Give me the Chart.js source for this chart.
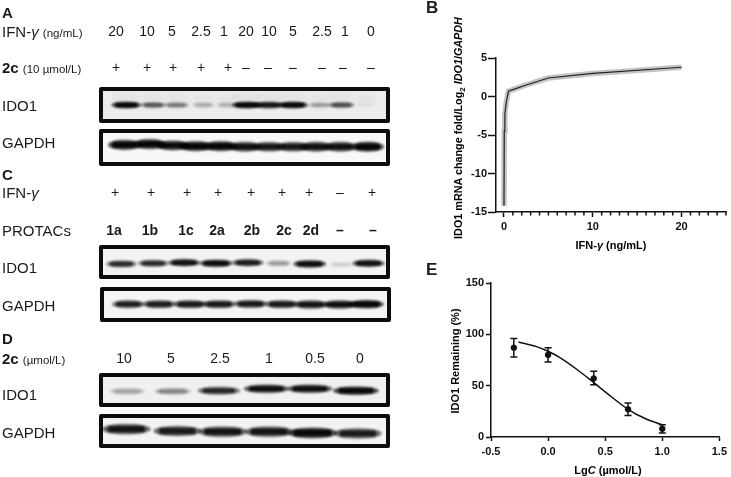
<!DOCTYPE html>
<html>
<head>
<meta charset="utf-8">
<title>IDO1 degradation</title>
<script src="https://cdn.jsdelivr.net/npm/chart.js@4"></script>
<style>
  body { margin: 0; background: #fff; width: 731px; height: 477px; overflow: hidden; position: relative;
         font-family: "Liberation Sans", Arial, sans-serif; color: #1a1a1a; }
  .t { position: absolute; white-space: nowrap; transform: translate(0, -50%); font-size: 15px; filter: blur(0.3px); }
  .c { transform: translate(-50%, -50%); text-align: center; font-size: 14px; }
  .r { transform: translate(-50%, -50%) rotate(-90deg); filter: none; }
  .s { font-size: 11.5px; }
  .b { font-weight: bold; }
  .ax { font-weight: bold; font-size: 11px; color: #000; }
  .blot { position: absolute; border: 4px solid #0c0c0c; border-radius: 2px; }
  .blot canvas, canvas.plot { display: block; }
  canvas.plot { position: absolute; }
  sub { font-size: 8px; line-height: 0; }
</style>
</head>
<body>
<script>
// Lane headers
const aDoses = ['20', '10', '5', '2.5', '1', '20', '10', '5', '2.5', '1', '0'];
const aCompound = ['+', '+', '+', '+', '+', '–', '–', '–', '–', '–', '–'];
const cIfn = ['+', '+', '+', '+', '+', '+', '+', '–', '+'];
const cProtacs = ['1a', '1b', '1c', '2a', '2b', '2c', '2d', '–', '–'];
const dDoses = ['10', '5', '2.5', '1', '0.5', '0'];

// Blot bands: place along the membrane (%), migration down it (%), darkness 0-1
const aIdoLane = [6.7, 16.6, 25.1, 35, 43.8, 50.9, 59, 67.8, 77.7, 85.5, 94.3];
const aIdoRun = [50, 50, 50, 50, 50, 50, 50, 50, 50, 50, 50];
const aIdoLevel = [1, 0.5, 0.38, 0.2, 0.18, 1, 0.9, 1, 0.25, 0.55, 0.04];
const aGapdhLane = [6, 15.2, 23.7, 32.2, 41.3, 50.2, 59, 67.8, 76.3, 85.2, 95.1];
const aGapdhRun = [36, 32, 39, 43, 43, 46, 46, 46, 46, 46, 46];
const aGapdhLevel = [1, 1, 0.95, 1, 1, 0.9, 0.85, 0.85, 0.9, 0.9, 1];
const cIdoLane = [4.9, 16.6, 27.9, 39.6, 51.2, 62.5, 73.9, 85.5, 95.4];
const cIdoRun = [62, 58, 54, 58, 54, 58, 62, 66, 58];
const cIdoLevel = [0.75, 0.75, 0.95, 1, 0.85, 0.25, 1, 0.1, 0.95];
const cGapdhLane = [7.1, 18.4, 29.7, 40.3, 51.9, 63.3, 73.9, 84.5, 94.3];
const cGapdhRun = [48, 48, 48, 48, 46, 48, 50, 50, 48];
const cGapdhLevel = [0.8, 0.82, 0.85, 0.85, 0.85, 0.85, 0.9, 0.95, 1];
const dIdoLane = [7.1, 23.7, 40.6, 58, 73.9, 90.8];
const dIdoRun = [58, 58, 54, 42, 42, 54];
const dIdoLevel = [0.22, 0.32, 0.75, 0.95, 0.95, 1];
const dGapdhLane = [6.7, 25.4, 42, 59, 74.9, 91.5];
const dGapdhRun = [38, 50, 54, 54, 62, 65];
const dGapdhLevel = [0.85, 0.8, 0.85, 0.85, 0.95, 0.8];

// Panel B
const bDose = [0, 0.03, 0.1, 0.25, 0.5, 1, 2.5, 5, 10, 20];
const bLog2 = [-14.2, -4.5, -2.2, -0.8, 0.7, 0.9, 1.5, 2.4, 3, 3.8];
const bXMajor = [0, 10, 20];
const bXMinor = [1, 2, 3, 4, 5, 6, 7, 8, 9, 11, 12, 13, 14, 15, 16, 17, 18, 19, 21, 22, 23, 24, 25];
const bYTicks = [-15, -10, -5, 0, 5];

// Panel E
const eLgC = [-0.3, 0, 0.4, 0.7, 1];
const eRemaining = [87, 80, 57, 27, 8];
const eLow = [78, 73, 51, 21, 4];
const eHigh = [96, 87, 64, 33, 12];
const eFitLgC = [-0.26, -0.1, 0, 0.1, 0.25, 0.4, 0.5, 0.7, 0.85, 1];
const eFitValue = [92.5, 88, 83.5, 77.5, 66, 53, 44, 27, 18, 12];
const eXTicks = [-0.5, 0, 0.5, 1, 1.5];
const eYTicks = [0, 50, 100, 150];

const INK = '#111';

function text(html, x, y, cls) {
    const el = document.createElement('div');
    el.className = 't ' + (cls || '');
    el.innerHTML = html;
    el.style.left = x + 'px';
    el.style.top = y + 'px';
    document.body.appendChild(el);
}

function row(labels, xs, y, cls) {
    labels.forEach((lab, i) => text(lab, xs[i], y, 'c ' + (cls || '')));
}

// Panel letters and row names
text('A', 2, 12, 'b');
text('C', 2, 174, 'b');
text('D', 2, 338, 'b');
text('IFN-<i>γ</i> <span class="s">(ng/mL)</span>', 2, 31);
text('<span class="b">2c</span> <span class="s">(10 µmol/L)</span>', 2, 67);
text('IDO1', 2, 105);
text('GAPDH', 2, 142);
text('IFN-<i>γ</i>', 2, 192);
text('PROTACs', 2, 230);
text('IDO1', 2, 267);
text('GAPDH', 2, 305);
text('<span class="b">2c</span> <span class="s">(µmol/L)</span>', 2, 358);
text('IDO1', 2, 394);
text('GAPDH', 2, 432);

row(aDoses, [116, 147, 172, 201, 224, 246, 269, 293, 322, 345, 371], 31);
row(aCompound, [116, 147, 173, 201, 228, 246, 268, 293, 322, 343, 371], 67);
row(cIfn, [115, 151, 187, 218, 251, 282, 309, 340, 372], 192);
row(cProtacs, [114, 150, 186, 217, 252, 284, 311, 340, 373], 230, 'b');
row(dDoses, [124, 171, 220, 269, 315, 360], 358);

function bandSprite(w, h, level, smear) {
    const c = document.createElement('canvas');
    c.width = Math.ceil(w) + 20;
    c.height = Math.ceil(h) + 34;
    const g = c.getContext('2d');
    const cx = c.width / 2, cy = c.height / 2;
    if (smear) {
        g.filter = 'blur(2.5px)';
        g.fillStyle = `rgba(0,0,0,${smear})`;
        g.fillRect(cx - w / 2, cy - h / 2 - 9, w, 9);
    }
    // tapered body plus a flatter core, bands thin out toward the lane edges
    g.filter = 'blur(1.2px)';
    g.fillStyle = `rgba(0,0,0,${level * 0.7})`;
    g.beginPath();
    g.ellipse(cx, cy, w / 2 + 1, h / 2 + 0.5, 0, 0, 2 * Math.PI);
    g.fill();
    g.fillStyle = `rgba(0,0,0,${level * 0.95})`;
    g.beginPath();
    g.roundRect(cx - w * 0.4, cy - h * 0.32, w * 0.8, h * 0.64, h * 0.3);
    g.fill();
    return c;
}

// One chart per membrane strip, bands are point sprites on 0-100 scales
function blot(box, bg, lanes, runs, levels, bandW, bandH, smear) {
    const holder = document.createElement('div');
    holder.className = 'blot';
    holder.style.left = box.left + 'px';
    holder.style.top = box.top + 'px';
    holder.style.background = bg;
    const cv = document.createElement('canvas');
    holder.appendChild(cv);
    document.body.appendChild(holder);
    cv.width = box.w;
    cv.height = box.h;
    new Chart(cv, {
        type: 'scatter',
        data: {
            datasets: [{
                data: lanes.map((x, i) => ({ x: x, y: runs[i] })),
                pointStyle: levels.map(l => bandSprite(bandW * (0.7 + 0.3 * l), bandH * (0.75 + 0.25 * l), l, smear)),
                clip: false
            }]
        },
        options: {
            responsive: false,
            animation: false,
            layout: { padding: 0 },
            plugins: { legend: { display: false }, tooltip: { enabled: false } },
            scales: {
                x: { display: false, min: 0, max: 100 },
                y: { display: false, min: 0, max: 100, reverse: true }
            }
        }
    });
}

blot({ left: 99, top: 87, w: 283, h: 28 }, '#ececec', aIdoLane, aIdoRun, aIdoLevel, 28, 6, 0.035);
blot({ left: 99, top: 129, w: 283, h: 29 }, '#f8f8f8', aGapdhLane, aGapdhRun, aGapdhLevel, 31, 9);
blot({ left: 99, top: 245, w: 283, h: 26 }, '#f3f3f3', cIdoLane, cIdoRun, cIdoLevel, 31, 6.5);
blot({ left: 100, top: 287, w: 283, h: 27 }, '#f5f5f5', cGapdhLane, cGapdhRun, cGapdhLevel, 33, 7.5);
blot({ left: 99, top: 373, w: 283, h: 26 }, '#f0f0f0', dIdoLane, dIdoRun, dIdoLevel, 44, 7.5);
blot({ left: 99, top: 414, w: 283, h: 26 }, '#f3f3f3', dGapdhLane, dGapdhRun, dGapdhLevel, 49, 10);

function plotCanvas(left, top, w, h) {
    const cv = document.createElement('canvas');
    cv.className = 'plot';
    cv.width = w;
    cv.height = h;
    cv.style.left = left + 'px';
    cv.style.top = top + 'px';
    document.body.appendChild(cv);
    return cv;
}

const axisFont = { family: '"Liberation Sans", Arial, sans-serif', size: 11, weight: 'bold' };

function axisGrid(len) {
    return { drawOnChartArea: false, drawTicks: true, tickLength: len, tickWidth: 1.5, tickColor: INK };
}

// Short unlabelled ticks under the x axis of panel B
const minorTicks = {
    id: 'minorTicks',
    afterDraw(chart) {
        const ctx = chart.ctx, sx = chart.scales.x;
        ctx.save();
        ctx.strokeStyle = INK;
        ctx.lineWidth = 1.5;
        bXMinor.forEach(v => {
            const px = sx.getPixelForValue(v);
            ctx.beginPath();
            ctx.moveTo(px, sx.top);
            ctx.lineTo(px, sx.top + 3.5);
            ctx.stroke();
        });
        ctx.restore();
    }
};

// Panel B: the grey band is a wide stroke under the mean line
new Chart(plotCanvas(440, 40, 291, 200), {
    type: 'scatter',
    data: {
        datasets: [
            { data: bDose.map((x, i) => ({ x: x, y: bLog2[i] })), showLine: true, borderColor: '#222', borderWidth: 1.2, pointRadius: 0, order: 1 },
            { data: bDose.map((x, i) => ({ x: x, y: bLog2[i] })), showLine: true, borderColor: '#c4c4c4', borderWidth: 5.5, pointRadius: 0, order: 2 }
        ]
    },
    plugins: [minorTicks],
    options: {
        responsive: false,
        animation: false,
        layout: { padding: { top: 18, right: 5, left: 0, bottom: 0 } },
        plugins: { legend: { display: false }, tooltip: { enabled: false } },
        scales: {
            x: {
                type: 'linear', min: -0.9, max: 25,
                afterFit: s => { s.height = 28; },
                afterBuildTicks: s => { s.ticks = bXMajor.map(v => ({ value: v })); },
                grid: axisGrid(5),
                border: { color: INK, width: 1.5 },
                ticks: { color: INK, font: axisFont, padding: 3, maxRotation: 0 }
            },
            y: {
                min: -15, max: 5,
                afterFit: s => { s.width = 56; },
                afterBuildTicks: s => { s.ticks = bYTicks.map(v => ({ value: v })); },
                grid: axisGrid(8),
                border: { color: INK, width: 1.5 },
                ticks: { color: INK, font: axisFont, padding: 1 }
            }
        }
    }
});

// Panel E: fit curve, means, and one two-point dataset per error bar
const eErrorBars = eLgC.map((x, i) => ({
    data: [{ x: x, y: eLow[i] }, { x: x, y: eHigh[i] }],
    showLine: true,
    borderColor: INK,
    borderWidth: 1.5,
    pointStyle: 'line',
    pointRadius: 3.5,
    pointBorderColor: INK,
    pointBorderWidth: 1.5
}));

new Chart(plotCanvas(440, 270, 291, 195), {
    type: 'scatter',
    data: {
        datasets: [
            { data: eFitLgC.map((x, i) => ({ x: x, y: eFitValue[i] })), showLine: true, tension: 0.35, borderColor: INK, borderWidth: 1.5, pointRadius: 0 },
            { data: eLgC.map((x, i) => ({ x: x, y: eRemaining[i] })), pointRadius: 2.8, backgroundColor: INK, borderColor: INK }
        ].concat(eErrorBars)
    },
    options: {
        responsive: false,
        animation: false,
        layout: { padding: { top: 13, right: 8, left: 0, bottom: 0 } },
        plugins: { legend: { display: false }, tooltip: { enabled: false } },
        scales: {
            x: {
                type: 'linear', min: -0.5, max: 1.5,
                afterFit: s => { s.height = 28; },
                afterBuildTicks: s => { s.ticks = eXTicks.map(v => ({ value: v })); },
                grid: axisGrid(4),
                border: { color: INK, width: 1.5 },
                ticks: { color: INK, font: axisFont, padding: 4, maxRotation: 0, callback: v => v.toFixed(1) }
            },
            y: {
                min: 0, max: 150,
                afterFit: s => { s.width = 51; },
                afterBuildTicks: s => { s.ticks = eYTicks.map(v => ({ value: v })); },
                grid: axisGrid(5),
                border: { color: INK, width: 1.5 },
                ticks: { color: INK, font: axisFont, padding: 2 }
            }
        }
    }
});

text('<span style="font-size:17px">B</span>', 426, 8, 'b');
text('<span style="font-size:17px">E</span>', 426, 270, 'b');
text('<span style="font-size:10.8px">IDO1 mRNA change fold/Log<sub>2</sub> <i>IDO1</i>/<i>GAPDH</i></span>', 458, 128, 'r ax');
text('IFN-<i>γ</i> (ng/mL)', 611, 245, 'c ax');
text('IDO1 Remaining (%)', 455, 361, 'r ax');
text('Lg<i>C</i> (µmol/L)', 608, 470, 'c ax');
</script>
</body>
</html>
